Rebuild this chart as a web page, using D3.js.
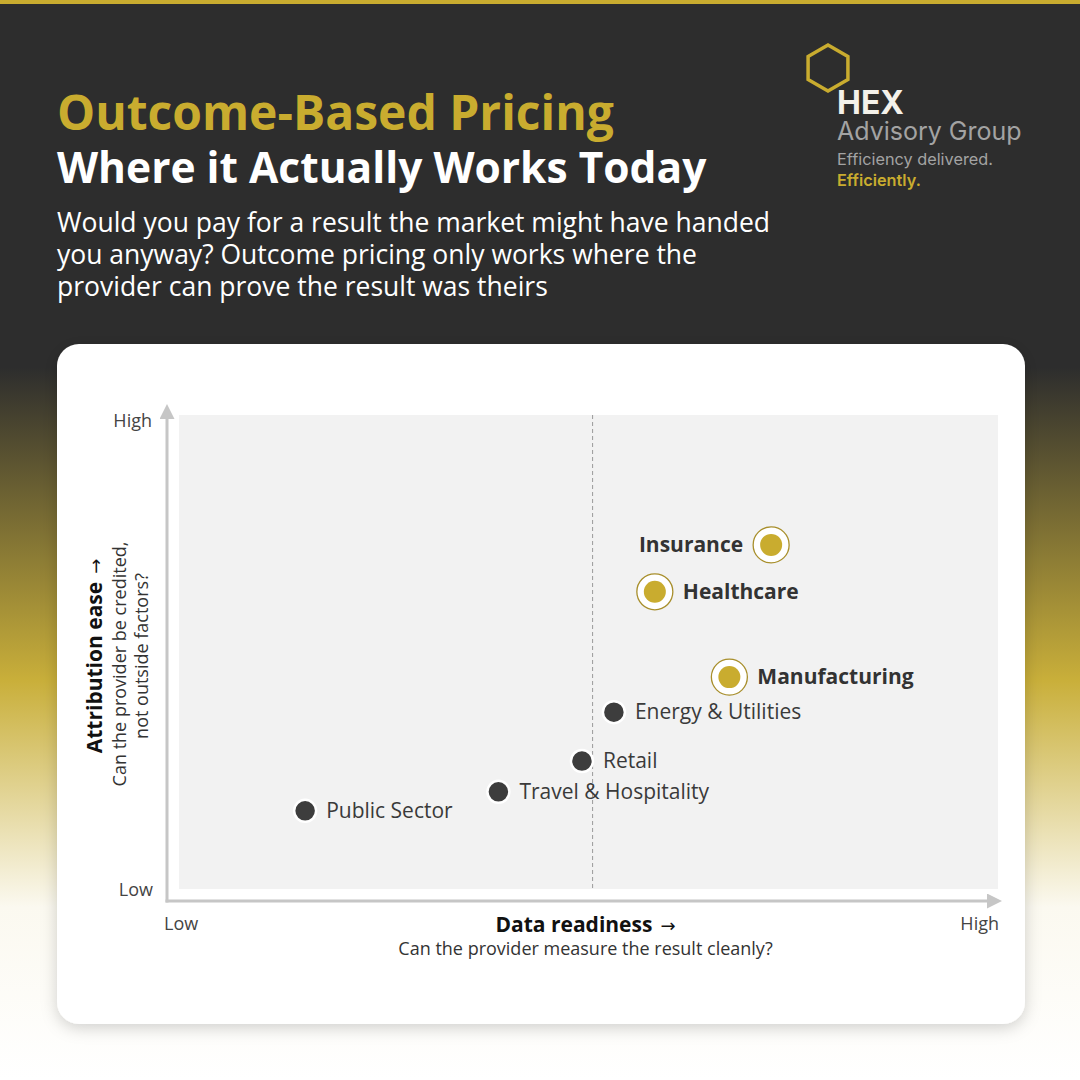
<!DOCTYPE html>
<html>
<head>
<meta charset="utf-8">
<script src="https://cdn.jsdelivr.net/npm/d3@7"></script>
<style>
  html, body { margin: 0; padding: 0; background: #fff; }
  svg { display: block; }
  text { font-family: "Open Sans", sans-serif; }
</style>
</head>
<body>
<div id="chart"></div>
<script>
// sectors, x = data readiness, y = attribution ease (0-10)
var sectors = ["Insurance", "Healthcare", "Manufacturing", "Energy & Utilities", "Retail", "Travel & Hospitality", "Public Sector"];
var readiness = [7.23, 5.81, 6.72, 5.31, 4.92, 3.90, 1.54];
var attribution = [7.26, 6.27, 4.47, 3.73, 2.70, 2.05, 1.65];
var highlighted = [true, true, true, false, false, false, false];
var labelSide = ["left", "right", "right", "right", "right", "right", "right"];
var midline = 5.05;
var axisTicks = ["Low", "High"];

var W = 1080, H = 1080;
var gold = "#c9ac2f", dark = "#2d2d2d";

var svg = d3.select("#chart").append("svg")
    .attr("width", W)
    .attr("height", H);

var defs = svg.append("defs");

var bg = defs.append("linearGradient")
    .attr("id", "bgGrad")
    .attr("x1", 0).attr("y1", 0).attr("x2", 0).attr("y2", 1);
bg.append("stop").attr("offset", "0").attr("stop-color", dark);
bg.append("stop").attr("offset", "0.34").attr("stop-color", dark);
bg.append("stop").attr("offset", "0.63").attr("stop-color", "#c9af3a");
bg.append("stop").attr("offset", "0.84").attr("stop-color", "#fbf9f0");
bg.append("stop").attr("offset", "1").attr("stop-color", "#ffffff");

var shadow = defs.append("filter")
    .attr("id", "cardShadow")
    .attr("x", "-10%").attr("y", "-10%").attr("width", "120%").attr("height", "120%");
shadow.append("feDropShadow")
    .attr("dx", 0).attr("dy", 4)
    .attr("stdDeviation", 8)
    .attr("flood-color", "#000")
    .attr("flood-opacity", 0.18);

svg.append("rect")
    .attr("width", W).attr("height", H)
    .attr("fill", "url(#bgGrad)");

// top stripe
svg.append("rect")
    .attr("width", W).attr("height", 4)
    .attr("fill", gold);

// ---- header ----
svg.append("text")
    .attr("x", 57).attr("y", 130)
    .attr("font-size", 48)
    .attr("font-weight", 700)
    .attr("fill", gold)
    .text("Outcome-Based Pricing");

svg.append("text")
    .attr("x", 57).attr("y", 183)
    .attr("font-size", 42.5)
    .attr("font-weight", 700)
    .attr("fill", "#ffffff")
    .text("Where it Actually Works Today");

var subLines = ["Would you pay for a result the market might have handed",
                "you anyway? Outcome pricing only works where the",
                "provider can prove the result was theirs"];
svg.append("g").selectAll("text")
    .data(subLines)
    .enter().append("text")
    .attr("x", 57)
    .attr("y", function(d, i) { return 232 + i * 32; })
    .attr("font-size", 26.5)
    .attr("fill", "#ffffff")
    .text(function(d) { return d; });

// ---- logo ----
var hex = d3.range(6).map(function(i) {
    var a = Math.PI / 3 * i - Math.PI / 2;
    return [828 + 23 * Math.cos(a), 68 + 23 * Math.sin(a)];
});
svg.append("polygon")
    .attr("points", hex.map(function(p) { return p.join(","); }).join(" "))
    .attr("fill", "none")
    .attr("stroke", gold)
    .attr("stroke-width", 3.5);

var logo = svg.append("g");
logo.append("text").attr("x", 837).attr("y", 114)
    .attr("font-size", 32).attr("font-weight", 700).attr("fill", "#f4f1ea")
    .style("font-family", "Inter, sans-serif")
    .text("HEX");
logo.append("text").attr("x", 837).attr("y", 140)
    .attr("font-size", 25).attr("fill", "#a3a3a3")
    .style("font-family", "Inter, sans-serif")
    .text("Advisory Group");
logo.append("text").attr("x", 837).attr("y", 165)
    .attr("font-size", 16.3).attr("fill", "#a3a3a3")
    .style("font-family", "Inter, sans-serif")
    .text("Efficiency delivered.");
logo.append("text").attr("x", 837).attr("y", 186)
    .attr("font-size", 16.3).attr("font-weight", 600).attr("fill", gold)
    .style("font-family", "Inter, sans-serif")
    .text("Efficiently.");

// ---- card ----
svg.append("rect")
    .attr("x", 57).attr("y", 344)
    .attr("width", 968).attr("height", 680)
    .attr("rx", 22)
    .attr("fill", "#ffffff")
    .attr("filter", "url(#cardShadow)");

// ---- plot ----
var plot = {left: 179, right: 998, top: 415, bottom: 889};

var x = d3.scaleLinear().domain([0, 10]).range([plot.left, plot.right]);
var y = d3.scaleLinear().domain([0, 10]).range([plot.bottom, plot.top]);

svg.append("rect")
    .attr("x", plot.left).attr("y", plot.top)
    .attr("width", plot.right - plot.left)
    .attr("height", plot.bottom - plot.top)
    .attr("fill", "#f2f2f2");

svg.append("line")
    .attr("x1", x(midline)).attr("x2", x(midline))
    .attr("y1", plot.top).attr("y2", plot.bottom)
    .attr("stroke", "#9a9a9a")
    .attr("stroke-width", 1)
    .attr("stroke-dasharray", "4,3");

// axes arrows
var axisColor = "#c6c6c6";
defs.append("marker")
    .attr("id", "arrow")
    .attr("viewBox", "0 0 10 10")
    .attr("refX", 2).attr("refY", 5)
    .attr("markerWidth", 5).attr("markerHeight", 5)
    .attr("markerUnits", "strokeWidth")
    .attr("orient", "auto")
    .append("path")
    .attr("d", "M0,0 L10,5 L0,10 Z")
    .attr("fill", axisColor);

var ox = 167, oy = 901;
svg.append("line")
    .attr("x1", ox).attr("y1", oy + 1.5)
    .attr("x2", ox).attr("y2", 416)
    .attr("stroke", axisColor).attr("stroke-width", 3)
    .attr("marker-end", "url(#arrow)");
svg.append("line")
    .attr("x1", ox - 1.5).attr("y1", oy)
    .attr("x2", 990).attr("y2", oy)
    .attr("stroke", axisColor).attr("stroke-width", 3)
    .attr("marker-end", "url(#arrow)");

// tick labels
var tickColor = "#444";
svg.append("text").attr("x", 152).attr("y", 427)
    .attr("text-anchor", "end").attr("font-size", 18).attr("fill", tickColor)
    .text(axisTicks[1]);
svg.append("text").attr("x", 153).attr("y", 896)
    .attr("text-anchor", "end").attr("font-size", 18).attr("fill", tickColor)
    .text(axisTicks[0]);
svg.append("text").attr("x", 164).attr("y", 930)
    .attr("font-size", 18).attr("fill", tickColor)
    .text(axisTicks[0]);
svg.append("text").attr("x", 999).attr("y", 930)
    .attr("text-anchor", "end").attr("font-size", 18).attr("fill", tickColor)
    .text(axisTicks[1]);

// x axis title
var xc = (plot.left + plot.right) / 2 - 3;
var xTitle = svg.append("text").attr("x", xc).attr("y", 932)
    .attr("text-anchor", "middle").attr("font-size", 21).attr("font-weight", 700).attr("fill", "#111");
xTitle.append("tspan").text("Data readiness");
xTitle.append("tspan").attr("dx", 8).attr("font-weight", 400)
    .style("font-family", "'DejaVu Sans', sans-serif").attr("font-size", 18)
    .text("\u2192");
svg.append("text").attr("x", xc).attr("y", 955)
    .attr("text-anchor", "middle").attr("font-size", 18).attr("fill", "#333")
    .text("Can the provider measure the result cleanly?");

// y axis title
var yc = 656;
var yTitle = svg.append("g");
var yMain = yTitle.append("text")
    .attr("transform", "translate(102," + yc + ") rotate(-90)")
    .attr("text-anchor", "middle").attr("font-size", 21).attr("font-weight", 700).attr("fill", "#111");
yMain.append("tspan").text("Attribution ease");
yMain.append("tspan").attr("dx", 8).attr("font-weight", 400)
    .style("font-family", "'DejaVu Sans', sans-serif").attr("font-size", 18)
    .text("\u2192");
yTitle.append("text")
    .attr("transform", "translate(126," + (yc + 8) + ") rotate(-90)")
    .attr("text-anchor", "middle").attr("font-size", 18).attr("fill", "#333")
    .text("Can the provider be credited,");
yTitle.append("text")
    .attr("transform", "translate(148," + yc + ") rotate(-90)")
    .attr("text-anchor", "middle").attr("font-size", 18).attr("fill", "#333")
    .text("not outside factors?");

// ---- points ----
var data = sectors.map(function(s, i) {
    return {name: s, x: readiness[i], y: attribution[i], hi: highlighted[i], side: labelSide[i]};
});

var pts = svg.append("g").selectAll("g.pt")
    .data(data)
    .enter().append("g")
    .attr("class", "pt")
    .attr("transform", function(d) { return "translate(" + x(d.x) + "," + y(d.y) + ")"; });

pts.filter(function(d) { return d.hi; })
    .append("circle")
    .attr("r", 18)
    .attr("fill", "#ffffff")
    .attr("stroke", "#a88f2c")
    .attr("stroke-width", 1.3);

pts.append("circle")
    .attr("r", 11)
    .attr("fill", function(d) { return d.hi ? gold : "#3d3d3d"; })
    .attr("stroke", function(d) { return d.hi ? "none" : "#ffffff"; })
    .attr("stroke-width", 2.5);

pts.append("text")
    .attr("x", function(d) {
        var off = d.hi ? 28 : 21;
        return d.side == "left" ? -off : off;
    })
    .attr("y", 7)
    .attr("text-anchor", function(d) { return d.side == "left" ? "end" : "start"; })
    .attr("font-size", 21)
    .attr("font-weight", function(d) { return d.hi ? 700 : 400; })
    .attr("fill", function(d) { return d.hi ? "#333" : "#3a3a3a"; })
    .text(function(d) { return d.name; });
</script>
</body>
</html>
